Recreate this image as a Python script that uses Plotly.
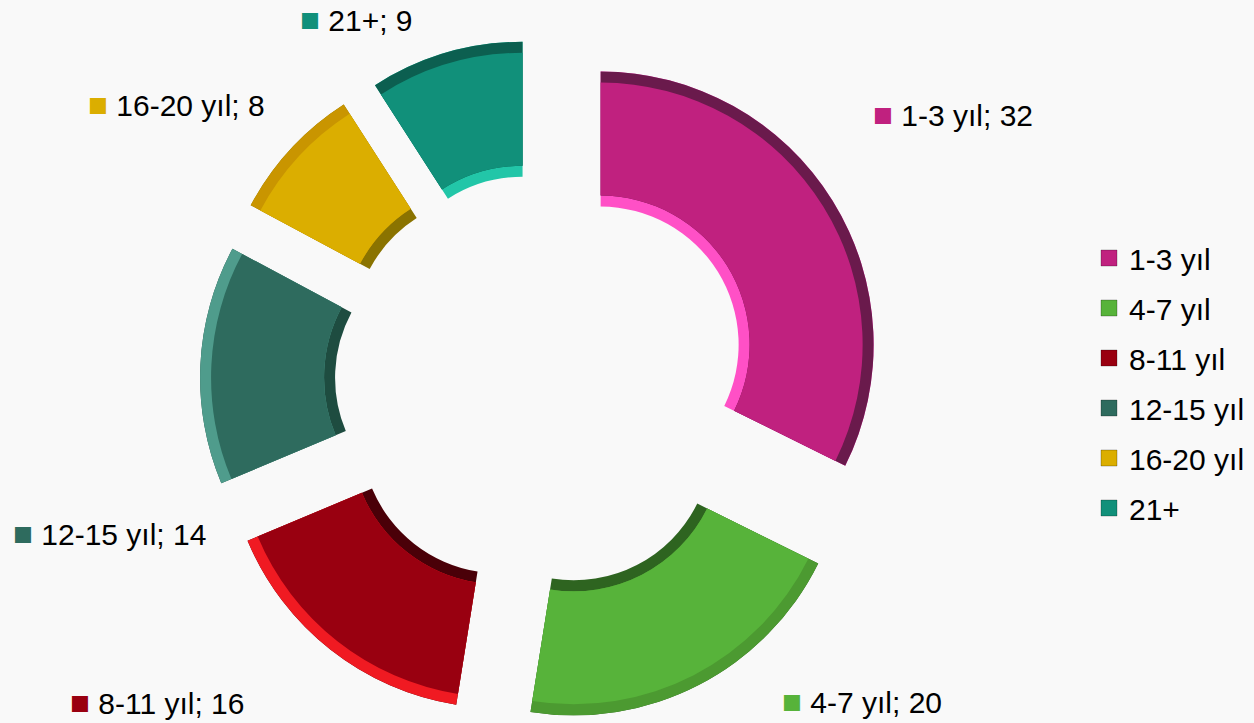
import plotly.graph_objects as go

# ---- data ----
categories = ["1-3 yıl", "4-7 yıl", "8-11 yıl", "12-15 yıl", "16-20 yıl", "21+"]
values = [32, 20, 16, 14, 8, 9]

# ---- styles ----
face_colors = ["#C0217F", "#57B33A", "#990010", "#2E6B5E", "#DBAE00", "#11907A"]
outer_bevel = ["#6A1A4C", "#4C9A31", "#F01A22", "#4F9C8C", "#C99500", "#0C5F50"]
inner_bevel = ["#FF50C6", "#2E6420", "#4A0008", "#1E4C40", "#8A7300", "#22C6A8"]

W, H = 1254, 723
CX, CY = 542, 381          # pie centre (px)
R_OUT, R_IN = 273, 138     # radii (px)
BEVEL = 11                 # bevel width (px)
PULL_PX = 69               # explode distance (px)

# label placement (paper coords, left/middle anchored)
label_x = [871 / W, 780 / W, 68 / W, 11 / W, 86 / W, 298 / W]
label_y = [(H - 114) / H, (H - 701) / H, (H - 702) / H, (H - 533) / H, (H - 104) / H, (H - 19) / H]

FONT = "Liberation Sans, Arial, sans-serif"
FS = 30


def layer(r_out, r_in, colors):
    half = r_out + PULL_PX
    dom_x = [(CX - half) / W, (CX + half) / W]
    dom_y = [max(0.0, (H - (CY + half)) / H), min(1.0, (H - (CY - half)) / H)]
    return go.Pie(
        labels=categories,
        values=values,
        sort=False,
        direction="clockwise",
        rotation=0,
        hole=r_in / r_out,
        pull=[PULL_PX / r_out] * len(values),
        domain=dict(x=dom_x, y=dom_y),
        marker=dict(colors=colors, line=dict(width=0)),
        textinfo="none",
        hoverinfo="skip",
        showlegend=False,
    )


fig = go.Figure()
fig.add_trace(layer(R_OUT, R_IN, inner_bevel))
fig.add_trace(layer(R_OUT, R_IN + BEVEL, outer_bevel))
fig.add_trace(layer(R_OUT - BEVEL, R_IN + BEVEL, face_colors))

# legend entries
for cat, col in zip(categories, face_colors):
    fig.add_trace(go.Scatter(
        x=[None], y=[None], mode="markers", name=cat, legendgroup=cat,
        marker=dict(symbol="square", size=16, color=col,
                    line=dict(width=1, color="rgba(0,0,0,0.25)")),
        hoverinfo="skip",
    ))

annotations = []
for cat, val, col, lx, ly in zip(categories, values, face_colors, label_x, label_y):
    annotations.append(dict(
        x=lx, y=ly, xref="paper", yref="paper", xanchor="left", yanchor="middle",
        showarrow=False,
        text=f"<span style='color:{col};font-size:33px'>■</span> {cat}; {val}",
        font=dict(family=FONT, size=FS, color="#000000"),
    ))

fig.update_layout(
    width=W, height=H,
    margin=dict(l=0, r=0, t=0, b=0),
    paper_bgcolor="#F9F9F9",
    plot_bgcolor="#F9F9F9",
    font=dict(family=FONT, size=FS, color="#000000"),
    xaxis=dict(visible=False),
    yaxis=dict(visible=False),
    showlegend=True,
    legend=dict(
        x=1089 / W, y=(H - 383) / H, xanchor="left", yanchor="middle",
        bgcolor="rgba(0,0,0,0)", font=dict(family=FONT, size=FS, color="#000000"),
        tracegroupgap=8, itemclick=False, itemdoubleclick=False,
    ),
    annotations=annotations,
)

fig.write_html(
    "out.html",
    config={"displayModeBar": False},
    post_script="document.body.style.margin='0';document.body.style.overflow='hidden';",
)
